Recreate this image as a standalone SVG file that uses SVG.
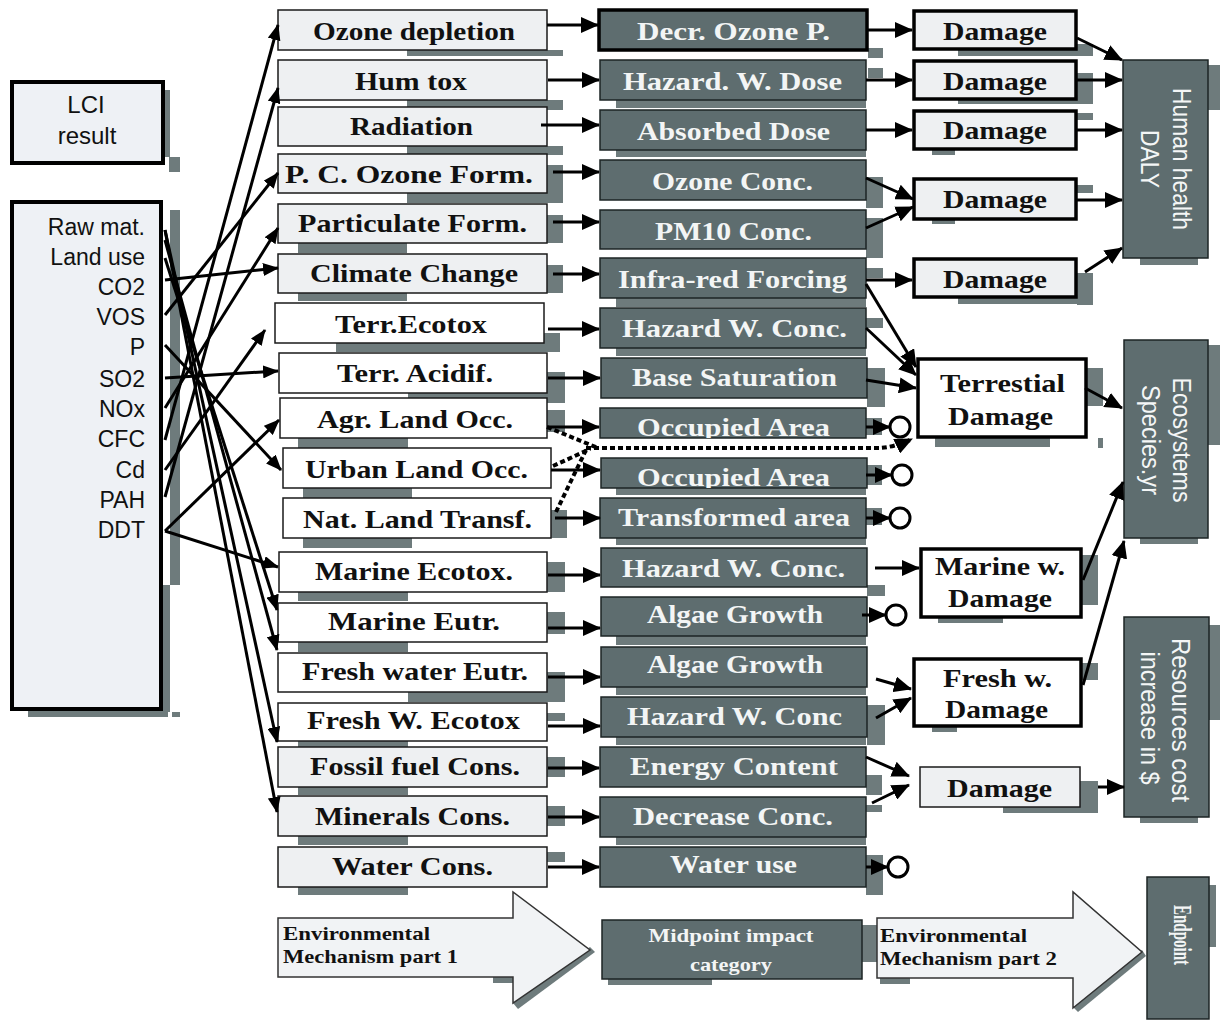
<svg xmlns="http://www.w3.org/2000/svg" width="1220" height="1021" viewBox="0 0 1220 1021">
<style>
.c1{fill:#eef0f2;stroke:#1a1a1a;stroke-width:1.5}
.c1w{fill:#ffffff;stroke:#1a1a1a;stroke-width:1.5}
.c2{fill:#5e6d6f;stroke:#1c2424;stroke-width:1.5}
.c2b{fill:#5e6d6f;stroke:#000;stroke-width:3.5}
.dm{fill:#eef0f2;stroke:#000;stroke-width:3.5}
.dmw{fill:#ffffff;stroke:#000;stroke-width:3.5}
.lb{fill:#eef1f5;stroke:#000;stroke-width:4}
.sh{fill:#6e7b7c}
.t1{font-family:"Liberation Serif","Times New Roman",serif;font-weight:bold;font-size:26px;fill:#111;text-anchor:middle}
.t2{font-family:"Liberation Serif","Times New Roman",serif;font-weight:bold;font-size:26px;fill:#f3f5f5;text-anchor:middle}
.t3{font-family:"Liberation Serif","Times New Roman",serif;font-weight:bold;font-size:19px;fill:#111}
.ts{font-family:"Liberation Sans",Arial,sans-serif;font-size:23px;fill:#111;text-anchor:end}
.tr{font-family:"Liberation Sans",Arial,sans-serif;font-size:25px;fill:#f4f6f6;text-anchor:middle}
.cn{stroke:#000;stroke-width:3;fill:none}
.dot{stroke:#000;stroke-width:4;stroke-dasharray:5 3;fill:none}
.circ{fill:#fff;stroke:#000;stroke-width:3}
</style>
<defs>
<marker id="ah" markerWidth="18" markerHeight="16" refX="17" refY="8" orient="auto" markerUnits="userSpaceOnUse"><path d="M0,0 L18,8 L0,16 z" fill="#000"/></marker>
<marker id="as" markerWidth="16" markerHeight="13" refX="15" refY="6.5" orient="auto" markerUnits="userSpaceOnUse"><path d="M0,0 L16,6.5 L0,13 z" fill="#000"/></marker>
<clipPath id="clip9"><rect x="600" y="408" width="266" height="30"/></clipPath>
<clipPath id="clip10"><rect x="601" y="458" width="266" height="30"/></clipPath>
</defs>
<rect width="1220" height="1021" fill="#ffffff"/>

<!-- left boxes -->
<g id="lci">
<rect class="sh" x="163" y="90" width="7" height="67"/>
<rect class="sh" x="169" y="157" width="11" height="15"/>
<rect class="lb" x="12" y="82" width="151" height="81"/>
<text class="ts" x="86" y="113" style="text-anchor:middle;font-size:24px">LCI</text>
<text class="ts" x="87" y="144" style="text-anchor:middle;font-size:24px">result</text>
</g>
<g id="inventory">
<rect class="sh" x="170" y="210" width="10" height="375"/>
<rect class="sh" x="163" y="585" width="7" height="127"/>
<rect class="sh" x="28" y="711" width="140" height="6"/>
<rect class="sh" x="172" y="712" width="8" height="5"/>
<rect class="lb" x="12" y="202" width="149" height="507"/>
<text class="ts" x="145" y="235">Raw mat.</text>
<text class="ts" x="145" y="265">Land use</text>
<text class="ts" x="145" y="295">CO2</text>
<text class="ts" x="145" y="325">VOS</text>
<text class="ts" x="145" y="355">P</text>
<text class="ts" x="145" y="387">SO2</text>
<text class="ts" x="145" y="417">NOx</text>
<text class="ts" x="145" y="447">CFC</text>
<text class="ts" x="145" y="478">Cd</text>
<text class="ts" x="145" y="508">PAH</text>
<text class="ts" x="145" y="538">DDT</text>
</g>

<!-- column 1 -->
<g id="m1"><rect class="sh" x="407" y="50" width="156" height="6"/><rect class="c1" x="278" y="10" width="269" height="40"/><text class="t1" x="414" y="40" textLength="202" lengthAdjust="spacingAndGlyphs">Ozone depletion</text></g>
<g id="m2"><rect class="sh" x="407" y="100" width="156" height="10"/><rect class="c1" x="278" y="60" width="269" height="40"/><text class="t1" x="411" y="90" textLength="112" lengthAdjust="spacingAndGlyphs">Hum tox</text></g>
<g id="m3"><rect class="sh" x="407" y="146" width="156" height="9"/><rect class="c1" x="278" y="107" width="269" height="39"/><text class="t1" x="411.5" y="135" textLength="123" lengthAdjust="spacingAndGlyphs">Radiation</text></g>
<g id="m4"><rect class="sh" x="547" y="165" width="16" height="35"/><rect class="sh" x="407" y="193" width="156" height="10"/><rect class="c1" x="278" y="154" width="269" height="39"/><text class="t1" x="409" y="183" textLength="248" lengthAdjust="spacingAndGlyphs">P. C. Ozone Form.</text></g>
<g id="m5"><rect class="sh" x="547" y="215" width="16" height="28"/><rect class="sh" x="298" y="243" width="109" height="10"/><rect class="c1" x="278" y="204" width="269" height="39"/><text class="t1" x="412.5" y="232" textLength="229" lengthAdjust="spacingAndGlyphs">Particulate Form.</text></g>
<g id="m6"><rect class="sh" x="547" y="265" width="16" height="28"/><rect class="sh" x="298" y="293" width="109" height="8"/><rect class="c1" x="278" y="254" width="269" height="39"/><text class="t1" x="414" y="282" textLength="208" lengthAdjust="spacingAndGlyphs">Climate Change</text></g>
<g id="m7"><rect class="sh" x="544" y="333" width="16" height="19"/><rect class="sh" x="336" y="343" width="224" height="9"/><rect class="c1w" x="275" y="303" width="269" height="40"/><text class="t1" x="411" y="333" textLength="152" lengthAdjust="spacingAndGlyphs">Terr.Ecotox</text></g>
<g id="m8"><rect class="sh" x="547" y="372" width="18" height="30"/><rect class="sh" x="408" y="393" width="157" height="10"/><rect class="c1w" x="279" y="353" width="268" height="40"/><text class="t1" x="415" y="382" textLength="156" lengthAdjust="spacingAndGlyphs">Terr. Acidif.</text></g>
<g id="m9"><rect class="sh" x="547" y="410" width="18" height="22"/><rect class="sh" x="298" y="438" width="110" height="10"/><rect class="c1w" x="280" y="398" width="267" height="40"/><text class="t1" x="415" y="428" textLength="196" lengthAdjust="spacingAndGlyphs">Agr. Land Occ.</text></g>
<g id="m10"><rect class="sh" x="303" y="488" width="109" height="10"/><rect class="c1w" x="283" y="448" width="268" height="40"/><text class="t1" x="416.5" y="478" textLength="223" lengthAdjust="spacingAndGlyphs">Urban Land Occ.</text></g>
<g id="m11"><rect class="sh" x="551" y="510" width="16" height="28"/><rect class="sh" x="303" y="538" width="109" height="10"/><rect class="c1w" x="283" y="498" width="268" height="40"/><text class="t1" x="417.5" y="528" textLength="229" lengthAdjust="spacingAndGlyphs">Nat. Land Transf.</text></g>
<g id="m12"><rect class="sh" x="547" y="562" width="18" height="30"/><rect class="sh" x="298" y="592" width="110" height="9"/><rect class="c1w" x="279" y="552" width="268" height="40"/><text class="t1" x="414" y="580" textLength="198" lengthAdjust="spacingAndGlyphs">Marine Ecotox.</text></g>
<g id="m13"><rect class="sh" x="547" y="612" width="18" height="22"/><rect class="sh" x="298" y="642" width="110" height="10"/><rect class="c1w" x="278" y="603" width="269" height="39"/><text class="t1" x="414" y="630" textLength="172" lengthAdjust="spacingAndGlyphs">Marine Eutr.</text></g>
<g id="m14"><rect class="sh" x="547" y="672" width="18" height="28"/><rect class="sh" x="408" y="692" width="157" height="10"/><rect class="c1w" x="278" y="653" width="269" height="39"/><text class="t1" x="415" y="680" textLength="226" lengthAdjust="spacingAndGlyphs">Fresh water Eutr.</text></g>
<g id="m15"><rect class="sh" x="547" y="713" width="18" height="8"/><rect class="sh" x="298" y="741" width="110" height="10"/><rect class="c1w" x="278" y="703" width="269" height="38"/><text class="t1" x="413.5" y="729" textLength="213" lengthAdjust="spacingAndGlyphs">Fresh W. Ecotox</text></g>
<g id="m16"><rect class="sh" x="547" y="757" width="18" height="20"/><rect class="sh" x="298" y="787" width="110" height="8"/><rect class="c1" x="278" y="747" width="269" height="40"/><text class="t1" x="415" y="775" textLength="210" lengthAdjust="spacingAndGlyphs">Fossil fuel Cons.</text></g>
<g id="m17"><rect class="sh" x="547" y="806" width="18" height="20"/><rect class="sh" x="298" y="836" width="110" height="9"/><rect class="c1" x="278" y="796" width="269" height="40"/><text class="t1" x="412.5" y="825" textLength="195" lengthAdjust="spacingAndGlyphs">Minerals Cons.</text></g>
<g id="m18"><rect class="sh" x="547" y="852" width="18" height="10"/><rect class="sh" x="298" y="887" width="110" height="8"/><rect class="c1" x="278" y="847" width="269" height="40"/><text class="t1" x="412.5" y="875" textLength="161" lengthAdjust="spacingAndGlyphs">Water Cons.</text></g>

<!-- column 2 -->
<g id="n1"><rect class="sh" x="868" y="48" width="15" height="10"/><rect class="c2b" x="599" y="10" width="268" height="40"/><text class="t2" x="733.5" y="40" textLength="193" lengthAdjust="spacingAndGlyphs">Decr. Ozone P.</text></g>
<g id="n2"><rect class="sh" x="868" y="68" width="15" height="10"/><rect class="sh" x="616" y="100" width="250" height="8"/><rect class="c2" x="600" y="60" width="266" height="40"/><text class="t2" x="732.5" y="90" textLength="219" lengthAdjust="spacingAndGlyphs">Hazard. W. Dose</text></g>
<g id="n3"><rect class="sh" x="616" y="150" width="250" height="7"/><rect class="c2" x="600" y="110" width="266" height="40"/><text class="t2" x="733.5" y="140" textLength="193" lengthAdjust="spacingAndGlyphs">Absorbed Dose</text></g>
<g id="n4"><rect class="sh" x="866" y="177" width="17" height="31"/><rect class="c2" x="600" y="160" width="266" height="40"/><text class="t2" x="732.5" y="190" textLength="161" lengthAdjust="spacingAndGlyphs">Ozone Conc.</text></g>
<g id="n5"><rect class="sh" x="866" y="218" width="17" height="40"/><rect class="c2" x="600" y="210" width="266" height="39"/><text class="t2" x="733.5" y="240" textLength="157" lengthAdjust="spacingAndGlyphs">PM10 Conc.</text></g>
<g id="n6"><rect class="sh" x="866" y="268" width="17" height="10"/><rect class="sh" x="616" y="298" width="250" height="9"/><rect class="c2" x="600" y="258" width="266" height="40"/><text class="t2" x="732.5" y="288" textLength="229" lengthAdjust="spacingAndGlyphs">Infra-red Forcing</text></g>
<g id="n7"><rect class="sh" x="866" y="318" width="17" height="10"/><rect class="sh" x="616" y="348" width="250" height="8"/><rect class="c2" x="600" y="308" width="266" height="40"/><text class="t2" x="734.5" y="337" textLength="225" lengthAdjust="spacingAndGlyphs">Hazard W. Conc.</text></g>
<g id="n8"><rect class="sh" x="867" y="368" width="18" height="39"/><rect class="c2" x="601" y="358" width="266" height="40"/><text class="t2" x="734.5" y="386" textLength="205" lengthAdjust="spacingAndGlyphs">Base Saturation</text></g>
<g id="n9"><rect class="sh" x="866" y="418" width="16" height="17"/><rect class="c2" x="600" y="408" width="266" height="30"/><text class="t2" x="733.5" y="436" textLength="193" lengthAdjust="spacingAndGlyphs" clip-path="url(#clip9)">Occupied Area</text></g>
<g id="n10"><rect class="sh" x="867" y="465" width="15" height="20"/><rect class="sh" x="616" y="488" width="250" height="7"/><rect class="c2" x="601" y="458" width="266" height="30"/><text class="t2" x="733.5" y="486" textLength="193" lengthAdjust="spacingAndGlyphs" clip-path="url(#clip10)">Occupied Area</text></g>
<g id="n11"><rect class="sh" x="866" y="508" width="16" height="17"/><rect class="sh" x="616" y="538" width="250" height="7"/><rect class="c2" x="600" y="498" width="266" height="40"/><text class="t2" x="734" y="526" textLength="232" lengthAdjust="spacingAndGlyphs">Transformed area</text></g>
<g id="n12"><rect class="sh" x="867" y="585" width="18" height="11"/><rect class="c2" x="601" y="548" width="266" height="39"/><text class="t2" x="733.5" y="577" textLength="223" lengthAdjust="spacingAndGlyphs">Hazard W. Conc.</text></g>
<g id="n13"><rect class="sh" x="616" y="636" width="250" height="9"/><rect class="c2" x="601" y="597" width="266" height="39"/><text class="t2" x="735" y="623" textLength="176" lengthAdjust="spacingAndGlyphs">Algae Growth</text></g>
<g id="n14"><rect class="sh" x="616" y="687" width="250" height="8"/><rect class="c2" x="601" y="647" width="266" height="40"/><text class="t2" x="735" y="673" textLength="176" lengthAdjust="spacingAndGlyphs">Algae Growth</text></g>
<g id="n15"><rect class="sh" x="867" y="705" width="18" height="40"/><rect class="sh" x="616" y="737" width="250" height="8"/><rect class="c2" x="601" y="697" width="266" height="40"/><text class="t2" x="734.5" y="725" textLength="215" lengthAdjust="spacingAndGlyphs">Hazard W. Conc</text></g>
<g id="n16"><rect class="sh" x="866" y="775" width="16" height="20"/><rect class="c2" x="600" y="747" width="266" height="40"/><text class="t2" x="734" y="775" textLength="208" lengthAdjust="spacingAndGlyphs">Energy Content</text></g>
<g id="n17"><rect class="sh" x="866" y="805" width="16" height="7"/><rect class="sh" x="616" y="837" width="250" height="8"/><rect class="c2" x="600" y="797" width="266" height="40"/><text class="t2" x="733" y="825" textLength="200" lengthAdjust="spacingAndGlyphs">Decrease Conc.</text></g>
<g id="n18"><rect class="sh" x="866" y="855" width="17" height="40"/><rect class="c2" x="600" y="847" width="266" height="40"/><text class="t2" x="733.5" y="873" textLength="127" lengthAdjust="spacingAndGlyphs">Water use</text></g>

<!-- damage boxes -->
<g id="d1"><rect class="sh" x="958" y="50" width="135" height="6"/><rect class="sh" x="1077" y="44" width="16" height="12"/><rect class="dm" x="914" y="11" width="162" height="38"/><text class="t1" x="995" y="40" style="font-size:25px" textLength="104" lengthAdjust="spacingAndGlyphs">Damage</text></g>
<g id="d2"><rect class="sh" x="1077" y="73" width="16" height="30"/><rect class="sh" x="958" y="100" width="135" height="4"/><rect class="dm" x="914" y="61" width="162" height="38"/><text class="t1" x="995" y="90" style="font-size:25px" textLength="104" lengthAdjust="spacingAndGlyphs">Damage</text></g>
<g id="d3"><rect class="sh" x="1077" y="113" width="16" height="7"/><rect class="sh" x="932" y="150" width="23" height="5"/><rect class="dm" x="914" y="111" width="162" height="38"/><text class="t1" x="995" y="139" style="font-size:25px" textLength="104" lengthAdjust="spacingAndGlyphs">Damage</text></g>
<g id="d4"><rect class="sh" x="1077" y="185" width="16" height="8"/><rect class="sh" x="932" y="220" width="23" height="4"/><rect class="dm" x="914" y="179" width="162" height="40"/><text class="t1" x="995" y="208" style="font-size:25px" textLength="104" lengthAdjust="spacingAndGlyphs">Damage</text></g>
<g id="d5"><rect class="sh" x="1077" y="273" width="16" height="32"/><rect class="sh" x="958" y="298" width="135" height="6"/><rect class="dm" x="914" y="259" width="162" height="38"/><text class="t1" x="995" y="288" style="font-size:25px" textLength="104" lengthAdjust="spacingAndGlyphs">Damage</text></g>
<g id="terr"><rect class="sh" x="1087" y="368" width="16" height="38"/><rect class="sh" x="935" y="438" width="115" height="9"/><rect class="sh" x="1098" y="438" width="5" height="10"/><rect class="dmw" x="918" y="359" width="168" height="78"/><text class="t1" x="1002.5" y="392" style="font-size:25px" textLength="125" lengthAdjust="spacingAndGlyphs">Terrestial</text><text class="t1" x="1000.5" y="425" style="font-size:25px" textLength="105" lengthAdjust="spacingAndGlyphs">Damage</text></g>
<g id="marw"><rect class="sh" x="1082" y="555" width="16" height="50"/><rect class="sh" x="938" y="618" width="65" height="5"/><rect class="dmw" x="921" y="549" width="160" height="68"/><text class="t1" x="1000" y="575" style="font-size:25px" textLength="130" lengthAdjust="spacingAndGlyphs">Marine w.</text><text class="t1" x="1000" y="607" style="font-size:25px" textLength="104" lengthAdjust="spacingAndGlyphs">Damage</text></g>
<g id="frw"><rect class="sh" x="1082" y="663" width="16" height="17"/><rect class="sh" x="932" y="727" width="25" height="5"/><rect class="dmw" x="914" y="659" width="167" height="67"/><text class="t1" x="997.5" y="687" style="font-size:25px" textLength="109" lengthAdjust="spacingAndGlyphs">Fresh w.</text><text class="t1" x="996.5" y="718" style="font-size:25px" textLength="103" lengthAdjust="spacingAndGlyphs">Damage</text></g>
<g id="dres"><rect class="sh" x="1080" y="781" width="18" height="32"/><rect class="sh" x="1003" y="807" width="95" height="6"/><rect class="c1" x="920" y="767" width="160" height="40"/><text class="t1" x="999.5" y="797" style="font-size:25px" textLength="105" lengthAdjust="spacingAndGlyphs">Damage</text></g>

<!-- endpoint boxes -->
<g id="human"><rect class="sh" x="1208" y="65" width="12" height="45"/><rect class="sh" x="1140" y="258" width="58" height="7"/><rect class="c2" x="1123" y="60" width="85" height="198"/>
<text class="tr" transform="translate(1173,159) rotate(90)" textLength="142" lengthAdjust="spacingAndGlyphs">Human health</text>
<text class="tr" transform="translate(1141,159) rotate(90)" textLength="58" lengthAdjust="spacingAndGlyphs">DALY</text></g>
<g id="eco"><rect class="sh" x="1208" y="345" width="12" height="100"/><rect class="sh" x="1140" y="538" width="58" height="6"/><rect class="c2" x="1124" y="340" width="84" height="198"/>
<text class="tr" transform="translate(1173,440) rotate(90)" textLength="125" lengthAdjust="spacingAndGlyphs">Ecosystems</text>
<text class="tr" transform="translate(1142,440) rotate(90)" textLength="110" lengthAdjust="spacingAndGlyphs">Species.yr</text></g>
<g id="res"><rect class="sh" x="1209" y="625" width="11" height="95"/><rect class="sh" x="1140" y="817" width="58" height="6"/><rect class="c2" x="1124" y="617" width="85" height="200"/>
<text class="tr" transform="translate(1172,720) rotate(90)" textLength="164" lengthAdjust="spacingAndGlyphs">Resources cost</text>
<text class="tr" transform="translate(1141,718) rotate(90)" textLength="133" lengthAdjust="spacingAndGlyphs">increase in $</text></g>
<g id="endpoint"><rect class="sh" x="1209" y="885" width="7" height="62"/><rect class="c2" x="1147" y="877" width="62" height="142"/>
<text class="t2" style="font-size:25px" transform="translate(1174,935) rotate(90)" textLength="60" lengthAdjust="spacingAndGlyphs">Endpoint</text></g>

<!-- legend -->
<g id="mech1">
<rect class="sh" x="493" y="977" width="20" height="6"/>
<polygon class="sh" points="590,947 595,952 518,1009 513,1003"/>
<polygon points="278,918 513,918 513,892 590,950 513,1003 513,977 278,977" fill="#f1f3f5" stroke="#333" stroke-width="1.5"/>
<text class="t3" x="283" y="940" textLength="147" lengthAdjust="spacingAndGlyphs">Environmental</text>
<text class="t3" x="283" y="963" textLength="175" lengthAdjust="spacingAndGlyphs">Mechanism part 1</text>
</g>
<g id="midpoint"><rect class="sh" x="862" y="925" width="16" height="37"/><rect class="sh" x="608" y="979" width="104" height="6"/><rect class="c2" x="602" y="920" width="260" height="59"/>
<text class="t2" style="font-size:19px" x="731" y="942" textLength="165" lengthAdjust="spacingAndGlyphs">Midpoint impact</text>
<text class="t2" style="font-size:19px" x="731" y="971" textLength="82" lengthAdjust="spacingAndGlyphs">category</text></g>
<g id="mech2">
<rect class="sh" x="880" y="978" width="30" height="6"/>
<polygon class="sh" points="1142,950 1146,956 1078,1012 1073,1007"/>
<polygon points="877,918 1073,918 1073,892 1142,952 1073,1008 1073,978 877,978" fill="#f1f3f5" stroke="#333" stroke-width="1.5"/>
<text class="t3" x="880" y="942" textLength="147" lengthAdjust="spacingAndGlyphs">Environmental</text>
<text class="t3" x="880" y="965" textLength="177" lengthAdjust="spacingAndGlyphs">Mechanism part 2</text>
</g>

<!-- connectors -->
<g id="connectors">
<line class="cn" x1="165" y1="440" x2="278" y2="25" marker-end="url(#as)"/>
<line class="cn" x1="165" y1="497" x2="278" y2="88" marker-end="url(#as)"/>
<line class="cn" x1="165" y1="315" x2="278" y2="173" marker-end="url(#as)"/>
<line class="cn" x1="165" y1="408" x2="278" y2="228" marker-end="url(#as)"/>
<line class="cn" x1="165" y1="280" x2="278" y2="268" marker-end="url(#as)"/>
<line class="cn" x1="165" y1="470" x2="265" y2="330" marker-end="url(#as)"/>
<line class="cn" x1="165" y1="378" x2="278" y2="371" marker-end="url(#as)"/>
<line class="cn" x1="165" y1="531" x2="279" y2="420" marker-end="url(#as)"/>
<line class="cn" x1="165" y1="345" x2="281" y2="470" marker-end="url(#as)"/>
<line class="cn" x1="165" y1="531" x2="278" y2="567" marker-end="url(#as)"/>
<line class="cn" x1="165" y1="258" x2="277" y2="610" marker-end="url(#as)"/>
<line class="cn" x1="165" y1="240" x2="277" y2="650" marker-end="url(#as)"/>
<line class="cn" x1="165" y1="230" x2="277" y2="742" marker-end="url(#as)"/>
<line class="cn" x1="165" y1="230" x2="277" y2="812" marker-end="url(#as)"/>
<line class="cn" x1="547" y1="25" x2="598" y2="25" marker-end="url(#ah)"/>
<line class="cn" x1="548" y1="80" x2="599" y2="80" marker-end="url(#ah)"/>
<line class="cn" x1="541" y1="125" x2="599" y2="125" marker-end="url(#ah)"/>
<line class="cn" x1="553" y1="172" x2="599" y2="172" marker-end="url(#ah)"/>
<line class="cn" x1="553" y1="222" x2="599" y2="222" marker-end="url(#ah)"/>
<line class="cn" x1="553" y1="274" x2="599" y2="274" marker-end="url(#ah)"/>
<line class="cn" x1="548" y1="329" x2="599" y2="329" marker-end="url(#ah)"/>
<line class="cn" x1="548" y1="378" x2="600" y2="378" marker-end="url(#ah)"/>
<line class="cn" x1="547" y1="427" x2="599" y2="427" marker-end="url(#ah)"/>
<line class="cn" x1="551" y1="470" x2="600" y2="470" marker-end="url(#ah)"/>
<line class="cn" x1="555" y1="518" x2="600" y2="518" marker-end="url(#ah)"/>
<line class="cn" x1="548" y1="575" x2="600" y2="575" marker-end="url(#ah)"/>
<line class="cn" x1="548" y1="628" x2="600" y2="628" marker-end="url(#ah)"/>
<line class="cn" x1="548" y1="677" x2="600" y2="677" marker-end="url(#ah)"/>
<line class="cn" x1="548" y1="726" x2="600" y2="726" marker-end="url(#ah)"/>
<line class="cn" x1="548" y1="768" x2="599" y2="768" marker-end="url(#ah)"/>
<line class="cn" x1="548" y1="817" x2="599" y2="817" marker-end="url(#ah)"/>
<line class="cn" x1="548" y1="867" x2="599" y2="867" marker-end="url(#ah)"/>
<path class="dot" d="M547,427 L598,448"/>
<path class="dot" d="M553,466 L590,449"/>
<path class="dot" d="M556,512 L586,450"/>
<path class="dot" d="M586,448 L880,448 Q895,447 912,439" marker-end="url(#ah)"/>
<line class="cn" x1="868" y1="30" x2="912" y2="30" marker-end="url(#ah)"/>
<line class="cn" x1="866" y1="80" x2="912" y2="80" marker-end="url(#ah)"/>
<line class="cn" x1="866" y1="130" x2="912" y2="130" marker-end="url(#ah)"/>
<line class="cn" x1="866" y1="178" x2="913" y2="199" marker-end="url(#ah)"/>
<line class="cn" x1="866" y1="228" x2="913" y2="207" marker-end="url(#ah)"/>
<line class="cn" x1="866" y1="280" x2="912" y2="280" marker-end="url(#ah)"/>
<line class="cn" x1="866" y1="284" x2="916" y2="367" marker-end="url(#ah)"/>
<line class="cn" x1="866" y1="328" x2="916" y2="375" marker-end="url(#ah)"/>
<line class="cn" x1="866" y1="380" x2="916" y2="388" marker-end="url(#ah)"/>
<line class="cn" x1="875" y1="568" x2="919" y2="568" marker-end="url(#ah)"/>
<line class="cn" x1="876" y1="679" x2="911" y2="689" marker-end="url(#ah)"/>
<line class="cn" x1="876" y1="718" x2="911" y2="698" marker-end="url(#ah)"/>
<line class="cn" x1="866" y1="757" x2="909" y2="776" marker-end="url(#ah)"/>
<line class="cn" x1="872" y1="803" x2="909" y2="785" marker-end="url(#ah)"/>
<line class="cn" x1="866" y1="427" x2="890" y2="427" marker-end="url(#ah)"/>
<circle class="circ" cx="900" cy="427" r="10"/>
<line class="cn" x1="866" y1="475" x2="892" y2="475" marker-end="url(#ah)"/>
<circle class="circ" cx="902" cy="475" r="10"/>
<line class="cn" x1="866" y1="518" x2="890" y2="518" marker-end="url(#ah)"/>
<circle class="circ" cx="900" cy="518" r="10"/>
<line class="cn" x1="862" y1="615" x2="886" y2="615" marker-end="url(#ah)"/>
<circle class="circ" cx="896" cy="615" r="10"/>
<line class="cn" x1="866" y1="867" x2="888" y2="867" marker-end="url(#ah)"/>
<circle class="circ" cx="898" cy="867" r="10"/>
<line class="cn" x1="1077" y1="38" x2="1122" y2="60" marker-end="url(#ah)"/>
<line class="cn" x1="1077" y1="80" x2="1122" y2="80" marker-end="url(#ah)"/>
<line class="cn" x1="1077" y1="130" x2="1122" y2="130" marker-end="url(#ah)"/>
<line class="cn" x1="1077" y1="200" x2="1122" y2="200" marker-end="url(#ah)"/>
<line class="cn" x1="1085" y1="272" x2="1122" y2="248" marker-end="url(#ah)"/>
<line class="cn" x1="1085" y1="388" x2="1122" y2="408" marker-end="url(#ah)"/>
<line class="cn" x1="1083" y1="580" x2="1123" y2="482" marker-end="url(#ah)"/>
<line class="cn" x1="1083" y1="685" x2="1124" y2="541" marker-end="url(#ah)"/>
<line class="cn" x1="1098" y1="787" x2="1124" y2="787" marker-end="url(#ah)"/>
</g>
</svg>
